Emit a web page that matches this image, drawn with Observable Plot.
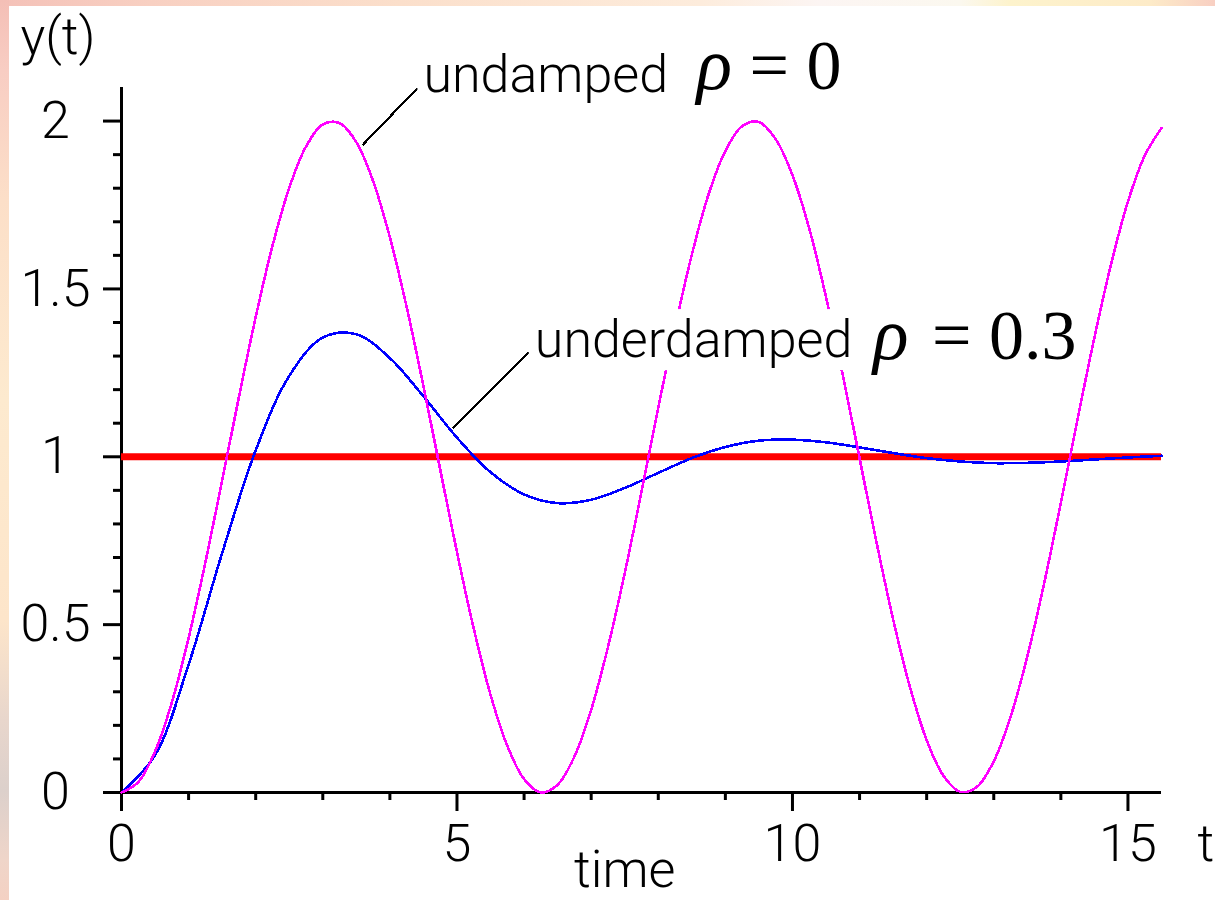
<!DOCTYPE html>
<html>
<head>
<meta charset="utf-8">
<title>Step response: undamped vs underdamped</title>
<script src="https://cdn.jsdelivr.net/npm/d3@7"></script>
<script src="https://cdn.jsdelivr.net/npm/@observablehq/plot@0.6"></script>
<style>
  html, body { margin: 0; padding: 0; background: #fff; }
  #page { position: relative; width: 1215px; height: 900px; overflow: hidden; background: #fdebd6; }
  #edgeTop {
    position: absolute; left: 0; top: 0; width: 1215px; height: 6px;
    background: linear-gradient(90deg, #f4c1b8 0px, #f8d0c2 150px, #fbdfcb 400px, #fdecdc 700px,
      #fcf5f3 820px, #fbf8ef 960px, #fdf3cc 1010px, #fdebc8 1150px, #f8cfc2 1215px);
  }
  #edgeLeft {
    position: absolute; left: 0; top: 0; width: 9px; height: 900px;
    background: linear-gradient(180deg, #f4bfb6 0px, #f8cdc3 70px, #fcdfc8 200px, #fdeacf 400px,
      #fde5ca 620px, #e8d6cc 720px, #dcd0cb 790px, #efd5c9 860px, #f4d1c3 900px);
  }
  #chart { position: absolute; left: 9px; top: 6px; width: 1206px; height: 894px; background: #fff; }
</style>
</head>
<body>
<div id="page">
  <div id="edgeTop"></div>
  <div id="edgeLeft"></div>
  <div id="chart"></div>
</div>
<script>
// Sample times (s) and responses y(t) to a unit step, natural frequency 1 rad/s.
const tFine = [0, 0.25, 0.5, 0.75, 1, 1.25, 1.5, 1.75, 2, 2.25, 2.5, 2.75, 3, 3.25, 3.5, 3.75,
  4, 4.25, 4.5, 4.75, 5, 5.25, 5.5, 5.75, 6, 6.25, 6.5, 6.75, 7, 7.25, 7.5, 7.75,
  8, 8.25, 8.5, 8.75, 9, 9.25, 9.5, 9.75, 10, 10.25, 10.5, 10.75, 11, 11.25, 11.5, 11.75,
  12, 12.25, 12.5, 12.75, 13, 13.25, 13.5, 13.75, 14, 14.25, 14.5, 14.75, 15, 15.25, 15.5];

// undamped, rho = 0
const undamped = [0, 0.031, 0.122, 0.268, 0.460, 0.685, 0.929, 1.178, 1.416, 1.628, 1.801, 1.924, 1.990, 1.994, 1.937, 1.821,
  1.654, 1.446, 1.211, 0.962, 0.716, 0.488, 0.291, 0.139, 0.040, 0.000, 0.023, 0.107, 0.246, 0.433, 0.653, 0.896,
  1.146, 1.385, 1.602, 1.782, 1.911, 1.985, 1.997, 1.946, 1.839, 1.680, 1.476, 1.243, 0.996, 0.748, 0.516, 0.315,
  0.156, 0.050, 0.002, 0.017, 0.093, 0.225, 0.405, 0.622, 0.863, 1.113, 1.355, 1.575, 1.760, 1.897, 1.979];

const tCoarse = [0, 0.5, 1, 1.5, 2, 2.5, 3, 3.5, 4, 4.5, 5, 5.5, 6, 6.5, 7, 7.5,
  8, 8.5, 9, 9.5, 10, 10.5, 11, 11.5, 12, 12.5, 13, 13.5, 14, 14.5, 15, 15.5];

// underdamped, rho = 0.3
const underdamped = [0, 0.111, 0.381, 0.713, 1.019, 1.241, 1.355, 1.365, 1.294, 1.180, 1.057, 0.954, 0.888, 0.862, 0.872, 0.907,
  0.952, 0.996, 1.029, 1.048, 1.051, 1.043, 1.028, 1.011, 0.996, 0.986, 0.981, 0.982, 0.986, 0.992, 0.998, 1.003];

// final value of the step
const setpoint = [1];

// ticks
const xMajorTicks = [0, 5, 10, 15];
const xTickLabels = ["0", "5", "10", "15"];
const xMinorTicks = [1, 2, 3, 4, 6, 7, 8, 9, 11, 12, 13, 14];
const yMajorTicks = [0, 0.5, 1, 1.5, 2];
const yTickLabels = ["0", "0.5", "1", "1.5", "2"];
const yMinorTicks = [0.1, 0.2, 0.3, 0.4, 0.6, 0.7, 0.8, 0.9, 1.1, 1.2, 1.3, 1.4, 1.6, 1.7, 1.8, 1.9];

// curve annotations
const noteNames = ["undamped", "underdamped"];
const rhoValues = ["= 0", "= 0.3"];
const noteAnchors = [
  {name: 0, x: 4.50, y: 2.086, rhoX: 8.57, valX: 9.36, rhoY: 2.095},
  {name: 1, x: 6.16, y: 1.297, rhoX: 11.20, valX: 12.08, rhoY: 1.291}
];
const leaders = [
  {x1: 3.59, y1: 1.928, x2: 4.41, y2: 2.098},
  {x1: 4.94, y1: 1.085, x2: 6.07, y2: 1.311}
];

const undampedRows = tFine.map((t, i) => ({t, y: undamped[i]}));
const underdampedRows = tCoarse.map((t, i) => ({t, y: underdamped[i]}));
const notes = noteAnchors.map(d => ({...d, label: noteNames[d.name], value: rhoValues[d.name]}));

const sans = "Roboto, 'Liberation Sans', Arial, sans-serif";
const serif = "'Liberation Serif', 'Times New Roman', Tinos, serif";

const chart = Plot.plot({
  width: 1206,
  height: 894,
  marginLeft: 112,
  marginRight: 54,
  marginTop: 81,
  marginBottom: 108,
  x: {domain: [0, 15.5], label: null},
  y: {domain: [0, 2.1], label: null},
  style: {fontFamily: sans, fontSize: "52px", fontWeight: 300, color: "black", background: "white", overflow: "visible"},
  marks: [
    // axes: minor and major ticks, then the axis lines through the origin
    Plot.axisX(xMinorTicks, {tickSize: 8, strokeWidth: 3, tickFormat: () => "", label: null}),
    Plot.axisX(xMajorTicks, {tickSize: 19, tickPadding: 13, strokeWidth: 3, label: null,
      tickFormat: d => xTickLabels[xMajorTicks.indexOf(d)]}),
    Plot.axisY(yMinorTicks, {tickSize: 8, strokeWidth: 3, tickFormat: () => "", label: null}),
    Plot.axisY(yMajorTicks, {tickSize: 18, tickPadding: 48, textAnchor: "middle", strokeWidth: 3, label: null,
      tickFormat: d => yTickLabels[yMajorTicks.indexOf(d)]}),
    Plot.ruleY([0], {strokeWidth: 3}),
    Plot.ruleX([0], {strokeWidth: 3}),

    // step input level
    Plot.ruleY(setpoint, {stroke: "#ff0000", strokeWidth: 7}),

    // responses
    Plot.line(underdampedRows, {x: "t", y: "y", stroke: "#0000ff", strokeWidth: 2.6, curve: "catmull-rom", shapeRendering: "crispEdges"}),
    Plot.line(undampedRows, {x: "t", y: "y", stroke: "#ff00ff", strokeWidth: 2.6, curve: "catmull-rom", shapeRendering: "crispEdges"}),

    // leader lines from the labels to the curves
    Plot.link(leaders, {x1: "x1", y1: "y1", x2: "x2", y2: "y2", stroke: "black", strokeWidth: 2.2, shapeRendering: "crispEdges"}),

    // labels
    Plot.text(notes, {x: "x", y: "y", text: "label", textAnchor: "start", lineAnchor: "bottom", fill: "black"}),
    Plot.text(notes, {x: "rhoX", y: "rhoY", text: () => "ρ", textAnchor: "start", lineAnchor: "bottom",
      fontFamily: serif, fontStyle: "italic", fontWeight: 400, fontSize: 74, fill: "black"}),
    Plot.text(notes, {x: "valX", y: "rhoY", text: "value", textAnchor: "start", lineAnchor: "bottom",
      fontFamily: serif, fontWeight: 400, fontSize: 70, fill: "black"}),

    // axis titles
    Plot.text(["time"], {x: 7.5, y: 0, text: d => d, dy: 94, textAnchor: "middle", lineAnchor: "bottom", fill: "black"}),
    Plot.text(["t"], {x: 15.5, y: 0, text: d => d, dx: 36, dy: 68, textAnchor: "start", lineAnchor: "bottom", fill: "black"}),
    Plot.text(["y(t)"], {frameAnchor: "top-left", text: d => d, dx: -101, dy: -34, textAnchor: "start", lineAnchor: "bottom", fill: "black"})
  ]
});

document.getElementById("chart").append(chart);

// White boxes behind the annotation texts so the curves pass underneath them.
(function addLabelBacking() {
  const wanted = new Set([...noteNames, ...rhoValues, "ρ"]);
  const texts = [...chart.querySelectorAll("text")].filter(t => wanted.has(t.textContent));
  if (!texts.length) return;
  const ns = "http://www.w3.org/2000/svg";
  const origin = chart.getBoundingClientRect();
  const backing = document.createElementNS(ns, "g");
  for (const t of texts) {
    const r = t.getBoundingClientRect();
    const rect = document.createElementNS(ns, "rect");
    rect.setAttribute("x", r.left - origin.left - 6);
    rect.setAttribute("y", r.top - origin.top);
    rect.setAttribute("width", r.width + 12);
    rect.setAttribute("height", r.height);
    rect.setAttribute("fill", "white");
    backing.appendChild(rect);
  }
  const firstGroup = texts[0].parentNode;
  firstGroup.parentNode.insertBefore(backing, firstGroup);
})();
</script>
</body>
</html>
